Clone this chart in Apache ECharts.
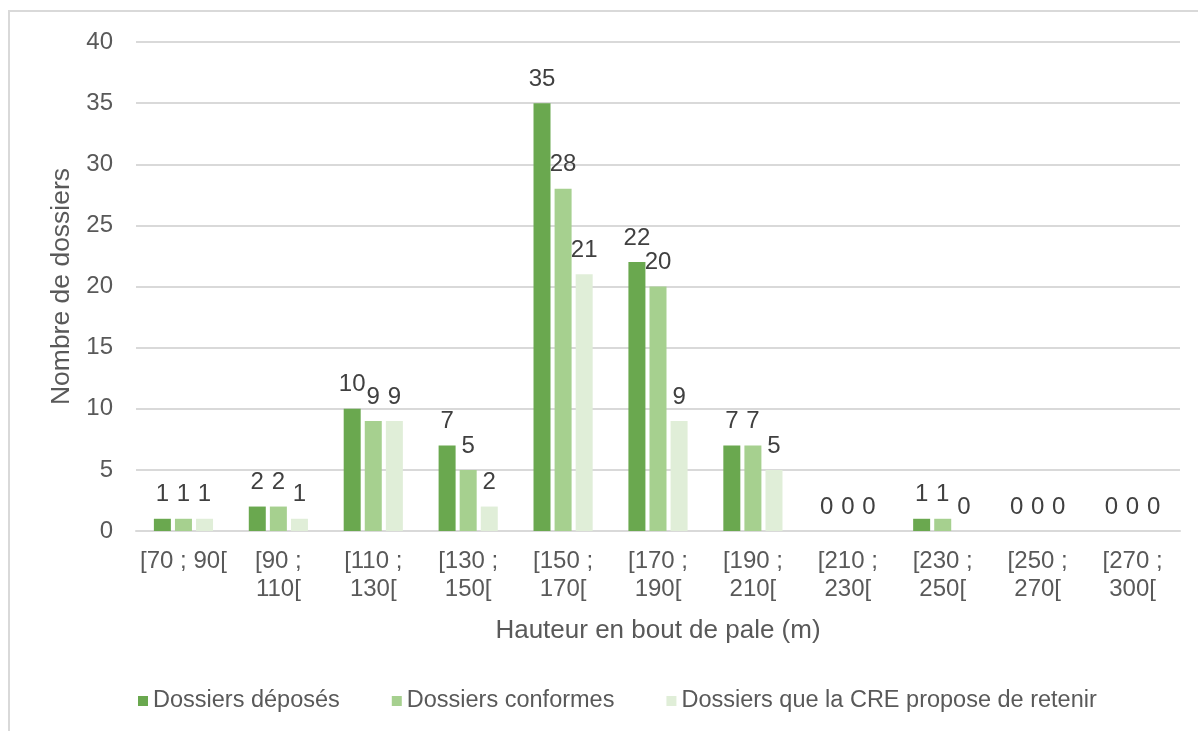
<!DOCTYPE html>
<html><head><meta charset="utf-8">
<script src="https://cdn.jsdelivr.net/npm/echarts@6/dist/echarts.min.js"></script>
<style>html,body{margin:0;padding:0;background:#fff}#c{width:1198px;height:731px}</style>
</head><body><div id="c"></div>
<script>
const categories = ['[70 ; 90[', '[90 ;\n110[', '[110 ;\n130[', '[130 ;\n150[', '[150 ;\n170[', '[170 ;\n190[', '[190 ;\n210[', '[210 ;\n230[', '[230 ;\n250[', '[250 ;\n270[', '[270 ;\n300['];
const seriesNames = ['Dossiers déposés', 'Dossiers conformes', 'Dossiers que la CRE propose de retenir'];
const deposes = [1, 2, 10, 7, 35, 22, 7, 0, 1, 0, 0];
const conformes = [1, 2, 9, 5, 28, 20, 7, 0, 1, 0, 0];
const retenus = [1, 1, 9, 2, 21, 9, 5, 0, 0, 0, 0];
const colors = ['#6aa84f', '#a6d08f', '#e0eed8'];
const FONT = 'Liberation Sans';

const chart = echarts.init(document.getElementById('c'));
const mk = (name, data, color) => ({
  name, type: 'bar', data, barWidth: 17, barGap: '24%',
  itemStyle: { color },
  label: { show: true, position: 'top', distance: 12, color: '#404040', fontSize: 24, fontFamily: FONT }
});
chart.setOption({
  animation: false,
  color: colors,
  graphic: [{ type: 'rect', shape: { x: 9, y: 11, width: 1200, height: 740 }, style: { fill: 'none', stroke: '#d9d9d9', lineWidth: 2 }, z: -1 }],
  grid: { left: 136, right: 18, top: 42, bottom: 200, containLabel: false },
  legend: {
    data: seriesNames, left: 133, top: 684, itemWidth: 10, itemHeight: 10, icon: 'rect', itemGap: 52,
    textStyle: { color: '#595959', fontSize: 23.5, fontFamily: FONT }
  },
  xAxis: {
    type: 'category', data: categories,
    name: 'Hauteur en bout de pale (m)', nameLocation: 'middle', nameGap: 87,
    nameTextStyle: { color: '#595959', fontSize: 26, fontFamily: FONT },
    axisLine: { lineStyle: { color: '#d9d9d9', width: 2 } },
    axisTick: { show: false },
    axisLabel: { color: '#595959', fontSize: 24, fontFamily: FONT, margin: 16, lineHeight: 28, interval: 0 }
  },
  yAxis: {
    type: 'value', min: 0, max: 40, interval: 5,
    name: 'Nombre de dossiers', nameLocation: 'middle', nameGap: 61,
    nameTextStyle: { color: '#595959', fontSize: 26.5, fontFamily: FONT },
    axisLine: { show: false }, axisTick: { show: false },
    splitLine: { lineStyle: { color: '#d9d9d9', width: 2 } },
    axisLabel: { color: '#595959', fontSize: 24, fontFamily: FONT, margin: 23 }
  },
  series: [mk(seriesNames[0], deposes, colors[0]), mk(seriesNames[1], conformes, colors[1]), mk(seriesNames[2], retenus, colors[2])]
});
</script></body></html>
